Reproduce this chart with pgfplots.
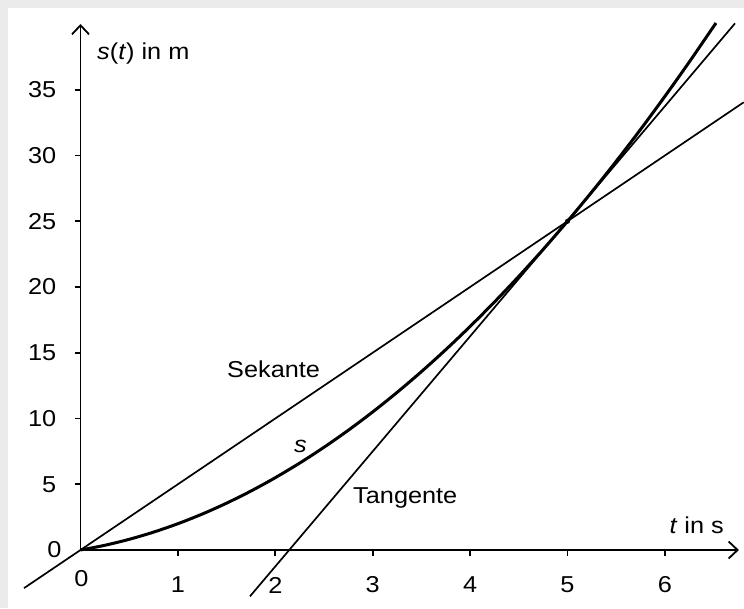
\documentclass[border=0pt]{standalone}
\usepackage{pgfplots}
\pgfplotsset{compat=1.18}
\usepackage{fontspec}
\setmainfont{Liberation Sans}[FakeStretch=1.1]
\usetikzlibrary{arrows.meta}
\definecolor{bg}{HTML}{EBEBEB}
\begin{document}
\fontsize{23}{26}\selectfont
\begin{tikzpicture}
\fill[bg] (-80.5pt,-58pt) rectangle (663.5pt,550pt);
\fill[white] (-72.5pt,-58pt) rectangle (663.5pt,542pt);
\begin{axis}[
  anchor=origin, at={(0pt,0pt)},
  x=97.4pt, y=13.15pt,
  xmin=0, xmax=6.76, ymin=0, ymax=40,
  axis lines=middle, clip=false,
  axis line style={line width=1.8pt, -{Straight Barb[length=9pt,width=17pt]}},
  xtick={0,1,2,3,4,5,6}, ytick={0,5,10,15,20,25,30,35},
  tick align=outside, major tick length=6pt,
  tick style={line width=1.8pt, black},
  /pgf/number format/assume math mode=true,
  ticklabel style={font=\fontsize{23}{26}\selectfont, inner sep=0pt},
  xticklabel style={anchor=center, yshift=-29pt},
  yticklabel style={anchor=east, xshift=-18pt},
]
\addplot[line width=1.7pt] coordinates {(-0.58,-2.9) (6.81,34.05)};
\addplot[line width=1.7pt] coordinates {(1.74,-3.525) (6.72,40.05)};
\addplot[line width=3pt, smooth] coordinates {
(0,0) (0.25,0.359) (0.5,0.8125) (0.75,1.359) (1,2.0) (1.25,2.734) (1.5,3.5625)
(1.75,4.484) (2,5.5) (2.25,6.609) (2.5,7.8125) (2.75,9.109) (3,10.5)
(3.25,11.984) (3.5,13.5625) (3.75,15.234) (4,17) (4.25,18.859) (4.5,20.8125)
(4.75,22.859) (5,25) (5.25,27.234) (5.5,29.5625) (5.75,31.984) (6,34.5)
(6.25,37.109) (6.5,39.8125) (6.52,40.03)};
\addplot[only marks, mark=*, mark size=2.3pt] coordinates {(5,25)};
\end{axis}
\node[anchor=center, inner sep=0pt] at (1pt,-29pt) {0};
\node[anchor=east, inner sep=0pt] at (-18.8pt,0pt) {0};
\node[anchor=base west, inner sep=0pt] at (16.5pt,490pt) {\textit{s}(\textit{t}) in m};
\node[anchor=base east, inner sep=0pt] at (643.5pt,17pt) {\textit{t} in s};
\node[anchor=base west, inner sep=0pt] at (146.5pt,172.7pt) {Sekante};
\node[anchor=base west, inner sep=0pt] at (213.5pt,97.3pt) {\textit{s}};
\node[anchor=base west, inner sep=0pt] at (272.5pt,46.7pt) {Tangente};
\pgfresetboundingbox
\path[use as bounding box] (-80.5pt,-58pt) rectangle (663.5pt,550pt);
\end{tikzpicture}
\end{document}
